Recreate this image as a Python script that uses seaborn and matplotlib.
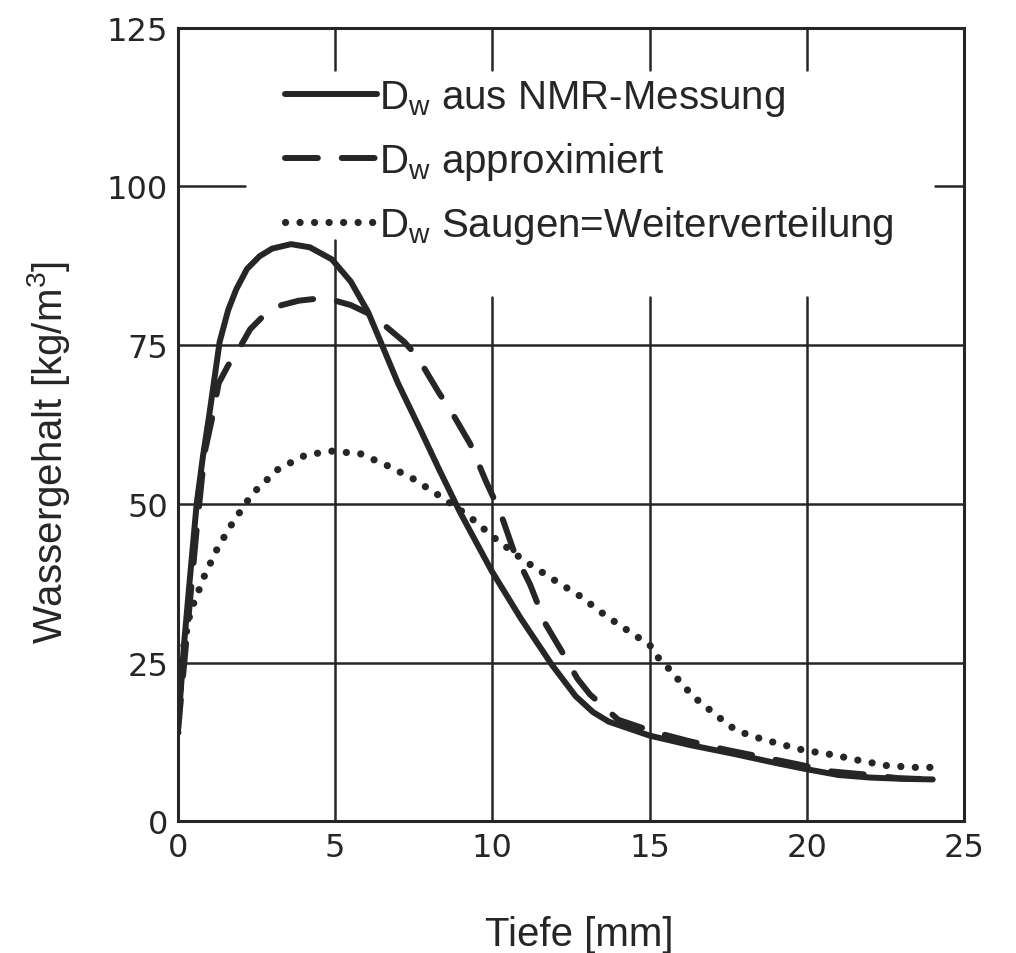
import matplotlib
matplotlib.use("Agg")
import matplotlib.pyplot as plt
import seaborn as sns
import pandas as pd

# values (Tiefe in mm, Wassergehalt in kg/m3)
tiefe_nmr = [0, 0.2, 0.38, 0.6, 0.8, 1.0, 1.33, 1.6, 1.86, 2.2, 2.6, 3.0, 3.6, 4.2, 4.9, 5.5,
             6.05, 6.45, 7.0, 7.7, 8.3, 8.97, 9.97, 10.9, 11.9, 12.65, 13.2, 13.7, 15.0, 16.3,
             17.7, 19.0, 20.0, 21.0, 22.0, 23.0, 24.0]
wasser_nmr = [14, 28, 38, 50, 57.5, 64, 75.5, 80.5, 83.8, 87, 89, 90.2, 90.9, 90.4, 88.5, 85,
              80.2, 75.5, 69, 61.8, 55.5, 48.7, 39.5, 32, 24.6, 19.7, 17.2, 15.7, 13.5, 12.0,
              10.6, 9.2, 8.2, 7.3, 6.9, 6.7, 6.6]

tiefe_approx = [0, 0.3, 0.6, 0.85, 1.07, 1.3, 1.6, 1.9, 2.3, 2.8, 3.3, 3.85, 4.4, 5.0, 5.5, 6.05,
                6.6, 7.2, 7.6, 7.95, 8.3, 8.7, 9.3, 9.8, 10.25, 10.7, 11.2, 11.7, 12.3, 12.7,
                13.1, 14.0, 15.2, 16.2, 17.4, 18.5, 19.7, 20.7, 21.8, 22.9, 24.0]
wasser_approx = [14, 30, 46, 58, 63, 69, 71.8, 74, 77.5, 80, 81.3, 82, 82.3, 82, 81.3, 80,
                 78, 75.5, 73.3, 70.4, 67.5, 64.5, 59.4, 53.5, 48.7, 42.3, 37.3, 31, 26, 22.5,
                 20, 16, 14, 12.7, 11.3, 10.2, 9.0, 7.9, 7.4, 6.8, 6.6]

tiefe_saugen = [0, 0.1, 0.2, 0.4, 0.85, 1.26, 1.74, 2.37, 3.2, 4.07, 4.9, 5.8, 6.67, 7.5, 8.4,
                9.27, 10.1, 10.97, 11.9, 12.78, 13.6, 14.5, 15.0, 15.3, 15.7, 16.06, 16.5, 16.9,
                17.3, 17.7, 18.2, 19.05, 19.9, 20.8, 21.66, 22.5, 23.4, 24.0]
wasser_saugen = [14, 22, 28, 33, 38.7, 43, 47, 51.6, 55.5, 57.7, 58.3, 57.9, 56, 53.9, 51,
                 48, 44.5, 41.2, 38.2, 35.5, 32.4, 29.4, 27.8, 25.6, 23.6, 21.4, 19.2, 17.6,
                 16, 14.5, 13.5, 12.3, 11.2, 10.5, 9.6, 8.8, 8.5, 8.5]

labels = [r"D$_\mathregular{w}$ aus NMR-Messung",
          r"D$_\mathregular{w}$ approximiert",
          r"D$_\mathregular{w}$ Saugen=Weiterverteilung"]

x_ticks = [0, 5, 10, 15, 20, 25]
y_ticks = [0, 25, 50, 75, 100, 125]

sns.set_theme(style="white")
plt.rcParams['font.family'] = ['Liberation Sans', 'DejaVu Sans']
plt.rcParams['mathtext.fontset'] = 'custom'
plt.rcParams['mathtext.rm'] = 'Liberation Sans'
plt.rcParams['mathtext.it'] = 'Liberation Sans'

ink = '#262626'

fig = plt.figure(figsize=(10.16, 9.54), dpi=100)
ax = fig.add_axes([0.175, 0.138, 0.774, 0.832])

df_nmr = pd.DataFrame({'Tiefe': tiefe_nmr, 'Wasser': wasser_nmr})
df_approx = pd.DataFrame({'Tiefe': tiefe_approx, 'Wasser': wasser_approx})
df_saugen = pd.DataFrame({'Tiefe': tiefe_saugen, 'Wasser': wasser_saugen})

sns.lineplot(data=df_nmr, x='Tiefe', y='Wasser', sort=False, estimator=None, ax=ax,
             color=ink, lw=4.3, label=labels[0], zorder=4, solid_capstyle='round')
sns.lineplot(data=df_approx, x='Tiefe', y='Wasser', sort=False, estimator=None, ax=ax,
             color=ink, lw=4.3, label=labels[1], zorder=3,
             linestyle=(0, (5.5, 4)), dash_capstyle='round')
sns.lineplot(data=df_saugen, x='Tiefe', y='Wasser', sort=False, estimator=None, ax=ax,
             color=ink, lw=5.2, label=labels[2], zorder=3,
             linestyle=(0, (0.01, 2.0)), dash_capstyle='round')

# grid, with the gaps left around the legend as in the original
grid_kw = dict(color=ink, lw=1.8, zorder=1)
for xv in [5, 10, 15, 20]:
    ax.axvline(xv, ymin=0.947, ymax=1, **grid_kw)
ax.axvline(5, ymax=0.733, **grid_kw)
for xv in [10, 15, 20]:
    ax.axvline(xv, ymax=0.66, **grid_kw)
for yv in [25, 50, 75]:
    ax.axhline(yv, **grid_kw)
ax.axhline(100, xmax=0.085, **grid_kw)
ax.axhline(100, xmin=0.963, **grid_kw)

ax.set_xlim(0, 25)
ax.set_ylim(0, 125)
ax.set_xticks(x_ticks)
ax.set_yticks(y_ticks)
ax.tick_params(length=0, labelsize=23, colors=ink)
ax.tick_params(axis='x', pad=8)
ax.tick_params(axis='y', pad=7)
for lab in ax.get_xticklabels() + ax.get_yticklabels():
    lab.set_fontfamily('DejaVu Sans')

for sp in ax.spines.values():
    sp.set_color(ink)
    sp.set_linewidth(2.2)

ax.set_xlabel('Tiefe [mm]', fontsize=29, color=ink)
ax.set_ylabel(r'Wassergehalt [kg/m$^\mathregular{3}$]', fontsize=29, color=ink)
ax.xaxis.set_label_coords(0.511, -0.118)
ax.yaxis.set_label_coords(-0.135, 0.466)

leg = ax.legend(loc='upper left', bbox_to_anchor=(0.136, 0.937), frameon=False,
                fontsize=29, handlelength=2.3, handletextpad=0.05, labelspacing=0.55,
                borderpad=0, borderaxespad=0)
for t in leg.get_texts():
    t.set_color(ink)

plt.savefig('out.png', dpi=100)
